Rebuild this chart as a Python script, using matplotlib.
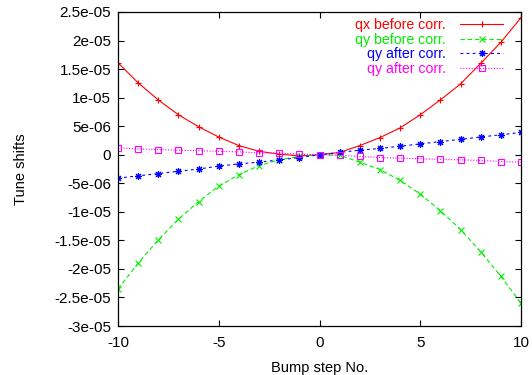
import matplotlib
matplotlib.use('Agg')
import matplotlib.pyplot as plt
from matplotlib.ticker import MultipleLocator, FuncFormatter

plt.rcParams['font.family'] = ['Liberation Sans', 'DejaVu Sans']
plt.rcParams['axes.unicode_minus'] = False

# bump steps
steps = list(range(-10, 11))

# tune shifts, units of 1e-05
qx_before = [1.61, 1.26, 0.96, 0.70, 0.49, 0.31, 0.16, 0.06, 0.01, -0.02, 0.0,
             0.04, 0.16, 0.30, 0.47, 0.70, 0.96, 1.24, 1.60, 1.97, 2.40]
qy_before = [-2.35, -1.90, -1.49, -1.13, -0.82, -0.55, -0.35, -0.19, -0.09, -0.03, 0.0,
             -0.01, -0.13, -0.26, -0.45, -0.69, -0.98, -1.31, -1.70, -2.13, -2.60]
qy_after = [-0.41, -0.37, -0.33, -0.29, -0.25, -0.20, -0.16, -0.13, -0.09, -0.05, 0.0,
            0.04, 0.08, 0.11, 0.15, 0.19, 0.23, 0.27, 0.31, 0.35, 0.39]
qy_after2 = [0.12, 0.10, 0.09, 0.08, 0.07, 0.06, 0.05, 0.03, 0.03, 0.01, 0.0,
             -0.01, -0.03, -0.05, -0.06, -0.07, -0.08, -0.09, -0.10, -0.12, -0.13]

labels = ['qx before corr.', 'qy before corr.', 'qy after corr.', 'qy after corr.']

fig = plt.figure(figsize=(5.32, 3.75), dpi=100)
ax = fig.add_axes([118 / 532, 1 - 326 / 375, 403 / 532, 314 / 375])

sc = 1e-5
ax.plot(steps, [v * sc for v in qx_before], color='#ff0000', lw=0.8,
        linestyle='-', marker='+', ms=5, mew=0.8, label=labels[0])
ax.plot(steps, [v * sc for v in qy_before], color='#00ee00', lw=0.8,
        linestyle=(0, (4, 2.5)), marker='x', ms=4, mew=0.8, label=labels[1])
ax.plot(steps, [v * sc for v in qy_after], color='#0000ff', lw=0.8,
        linestyle=(0, (2.5, 3)), marker=(8, 2, 0), ms=5, mew=0.8, label=labels[2])
ax.plot(steps, [v * sc for v in qy_after2], color='#ff00ff', lw=0.8,
        linestyle=(0, (1, 1.5)), marker='s', ms=4.5, mew=0.8, fillstyle='none',
        label=labels[3])

ax.set_xlim(-10, 10)
ax.set_ylim(-3e-5, 2.5e-5)
ax.xaxis.set_major_locator(MultipleLocator(5))
ax.yaxis.set_major_locator(MultipleLocator(5e-6))
ax.yaxis.set_major_formatter(FuncFormatter(lambda v, p: '%g' % round(v, 12)))

ax.tick_params(direction='in', length=4.5, width=0.8, top=True, right=True,
               labelsize=11)
ax.tick_params(axis='x', pad=7)
ax.tick_params(axis='y', pad=5)
for s in ax.spines.values():
    s.set_linewidth(0.9)

ax.set_xlabel('Bump step No.', fontsize=10.5, labelpad=8)
ax.set_ylabel('Tune shifts', fontsize=10.5, labelpad=19)

ax.legend(loc='upper right', bbox_to_anchor=(0.955, 0.981), markerfirst=False,
          frameon=False, labelcolor='linecolor', fontsize=10.2, handlelength=3,
          handletextpad=1.0, labelspacing=0.05, borderaxespad=0, borderpad=0)

fig.savefig('out.png', dpi=100)
